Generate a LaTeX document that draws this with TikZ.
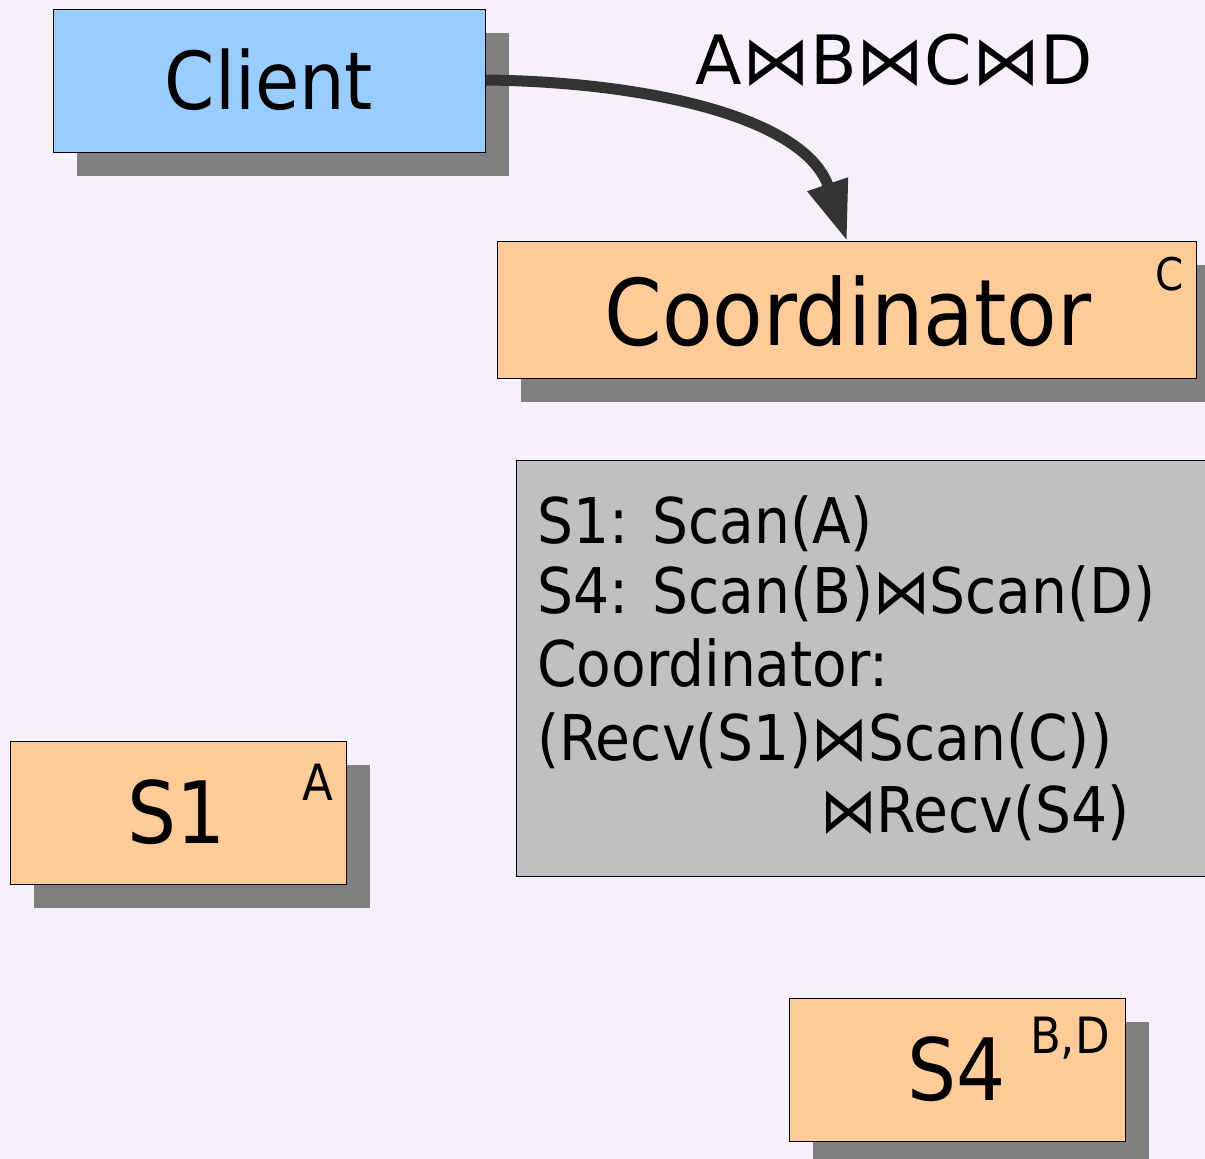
\documentclass[tikz,border=0pt]{standalone}
\usepackage{fontspec}
\setmainfont{DejaVu Sans}
\newfontfamily\condfont{DejaVu Sans Condensed}
\usetikzlibrary{shadows,arrows.meta}
\definecolor{bgcol}{HTML}{F5F0FA}
\definecolor{clientblue}{HTML}{99CCFF}
\definecolor{siteorange}{HTML}{FFCC99}
\definecolor{plangray}{HTML}{C0C0C0}
\definecolor{shadowgray}{HTML}{808080}
\definecolor{arrowdark}{HTML}{333333}
\newcommand{\fsz}[1]{\fontsize{#1}{#1}\selectfont}
\tikzset{
  x=1pt, y=1pt,
  box/.style={draw=black, line width=1.1pt, inner sep=0pt, anchor=north west,
    drop shadow={shadow xshift=23pt, shadow yshift=-23pt, fill=shadowgray, opacity=1}},
  txt/.style={inner sep=0pt, anchor=base},
}
\begin{document}
\begin{tikzpicture}
  \useasboundingbox (0,0) rectangle (1205,-1159);
  \clip (0,0) rectangle (1205,-1159);
  \fill[bgcol] (0,0) rectangle (1205,-1159);

  % boxes
  \node[box, fill=clientblue, minimum width=432pt, minimum height=143pt] (client) at (53,-9) {};
  \node[box, fill=siteorange, minimum width=699pt, minimum height=137pt] (coord) at (497,-241) {};
  \node[box, fill=siteorange, minimum width=336pt, minimum height=143pt] (s1) at (10,-741) {};
  \node[box, fill=siteorange, minimum width=336pt, minimum height=143pt] (s4) at (789,-998) {};
  \node[draw=black, line width=1.1pt, fill=plangray, inner sep=0pt, anchor=north west,
        minimum width=720pt, minimum height=416pt] (plan) at (516,-460) {};

  % box titles
  \node[txt, font=\condfont\fsz{80}] (clienttxt) at (269,-109) {Client};
  \node[txt, font=\condfont\fsz{92}] (coordtxt) at (848,-345) {Coordinator};
  \node[txt, font=\condfont\fsz{45}] (coordsup) at (1170,-290) {C};
  \node[txt, font=\condfont\fsz{86}] (s1txt) at (177,-843) {S1};
  \node[txt, font=\condfont\fsz{50}] (s1sup) at (318,-800) {A};
  \node[txt, font=\condfont\fsz{86}] (s4txt) at (957,-1100) {S4};
  \node[txt, font=\condfont\fsz{50}] (s4sup) at (1070,-1053) {B,D};

  % query plan text
  \tikzset{planline/.style={inner sep=0pt, anchor=base west, font=\condfont\fsz{63}}}
  \node[planline] (pl1) at (537,-543) {S1: Scan(A)};
  \node[planline] (pl2) at (537,-613) {S4: Scan(B)⋈Scan(D)};
  \node[planline] (pl3) at (537,-686) {Coordinator:};
  \node[planline] (pl4) at (537,-760) {(Recv(S1)⋈Scan(C))};
  \node[planline] (pl5) at (820,-832) {⋈Recv(S4)};

  % query sent to the coordinator
  \node[txt, font=\fsz{68}] (query) at (894,-84) {A⋈B⋈C⋈D};
  \coordinate (qstart) at (client.east |- 0,-80);
  \coordinate (qend) at (847,-241);
  \draw[arrowdark, line width=11pt, -{Triangle[length=60pt, width=40pt]}]
    (qstart) .. controls (650,-82) and (805,-118) .. (qend);
\end{tikzpicture}
\end{document}
